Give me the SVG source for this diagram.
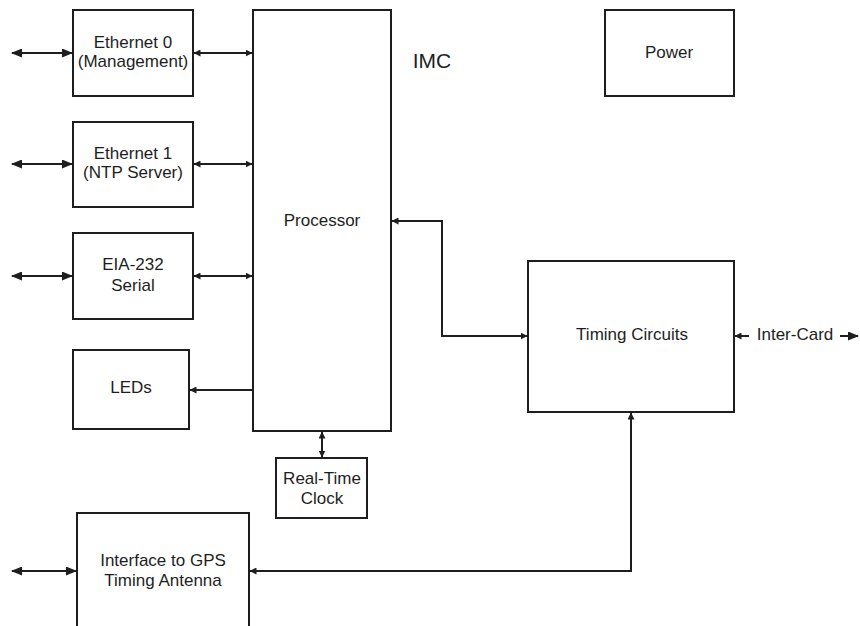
<svg xmlns="http://www.w3.org/2000/svg" width="860" height="626" viewBox="0 0 860 626">
<style>
.box{fill:#fff;stroke:#1e1e1e;stroke-width:2}
.ln{fill:none;stroke:#1e1e1e;stroke-width:2}
.t{font-family:"Liberation Sans",Arial,sans-serif;font-size:17px;fill:#1e1e1e;text-anchor:middle}
</style>
<defs>
<marker id="big" markerUnits="userSpaceOnUse" markerWidth="11" markerHeight="9" refX="10" refY="4.5" orient="auto-start-reverse"><path d="M0,0 L11,4.5 L0,9 z" fill="#1e1e1e"/></marker>
<marker id="sm" markerUnits="userSpaceOnUse" markerWidth="7" markerHeight="7" refX="6.5" refY="3.5" orient="auto-start-reverse"><path d="M0,0 L7,3.5 L0,7 z" fill="#1e1e1e"/></marker>
</defs>
<rect width="860" height="626" fill="#fff"/>
<g id="connectors">
<path class="ln" d="M12,53 L72,53" marker-start="url(#big)" marker-end="url(#big)"/>
<path class="ln" d="M12,164 L72,164" marker-start="url(#big)" marker-end="url(#big)"/>
<path class="ln" d="M12,276 L72,276" marker-start="url(#big)" marker-end="url(#big)"/>
<path class="ln" d="M12,571 L76,571" marker-start="url(#big)" marker-end="url(#big)"/>
<path class="ln" d="M194,53 L252,53" marker-start="url(#sm)" marker-end="url(#sm)"/>
<path class="ln" d="M194,164 L252,164" marker-start="url(#sm)" marker-end="url(#sm)"/>
<path class="ln" d="M194,276 L252,276" marker-start="url(#sm)" marker-end="url(#sm)"/>
<path class="ln" d="M253,390 L190,390" marker-end="url(#sm)"/>
<path class="ln" d="M392,221 L442,221 L442,336 L527,336" marker-start="url(#sm)" marker-end="url(#sm)"/>
<path class="ln" d="M322,432 L322,457" marker-start="url(#sm)" marker-end="url(#sm)"/>
<path class="ln" d="M631,413 L631,571 L250,571" marker-start="url(#sm)" marker-end="url(#sm)"/>
<path class="ln" d="M735,336 L749,336" marker-start="url(#sm)"/>
<path class="ln" d="M840,336 L858,336" marker-end="url(#big)"/>
</g>
<g id="eth0"><rect class="box" x="73" y="10" width="120" height="86"/><text class="t" x="133" y="48">Ethernet 0</text><text class="t" x="133" y="67">(Management)</text></g>
<g id="eth1"><rect class="box" x="73" y="122" width="120" height="85"/><text class="t" x="133" y="159">Ethernet 1</text><text class="t" x="133" y="178">(NTP Server)</text></g>
<g id="serial"><rect class="box" x="73" y="233" width="120" height="86"/><text class="t" x="133" y="270">EIA-232</text><text class="t" x="133" y="291">Serial</text></g>
<g id="leds"><rect class="box" x="73" y="350" width="116" height="79"/><text class="t" x="131" y="393">LEDs</text></g>
<g id="processor"><rect class="box" x="253" y="10" width="138" height="421"/><text class="t" x="322" y="226">Processor</text></g>
<g id="imc"><text class="t" x="432" y="68" style="font-size:21px">IMC</text></g>
<g id="power"><rect class="box" x="605" y="10" width="129" height="86"/><text class="t" x="669" y="58">Power</text></g>
<g id="timing"><rect class="box" x="528" y="261" width="206" height="151"/><text class="t" x="632" y="340">Timing Circuits</text></g>
<g id="intercard"><text class="t" x="795" y="340">Inter-Card</text></g>
<g id="rtc"><rect class="box" x="276" y="458" width="91" height="60"/><text class="t" x="322" y="484">Real-Time</text><text class="t" x="322" y="504">Clock</text></g>
<g id="gps"><rect class="box" x="77" y="513" width="172" height="120"/><text class="t" x="163" y="566">Interface to GPS</text><text class="t" x="163" y="586">Timing Antenna</text></g>
</svg>
